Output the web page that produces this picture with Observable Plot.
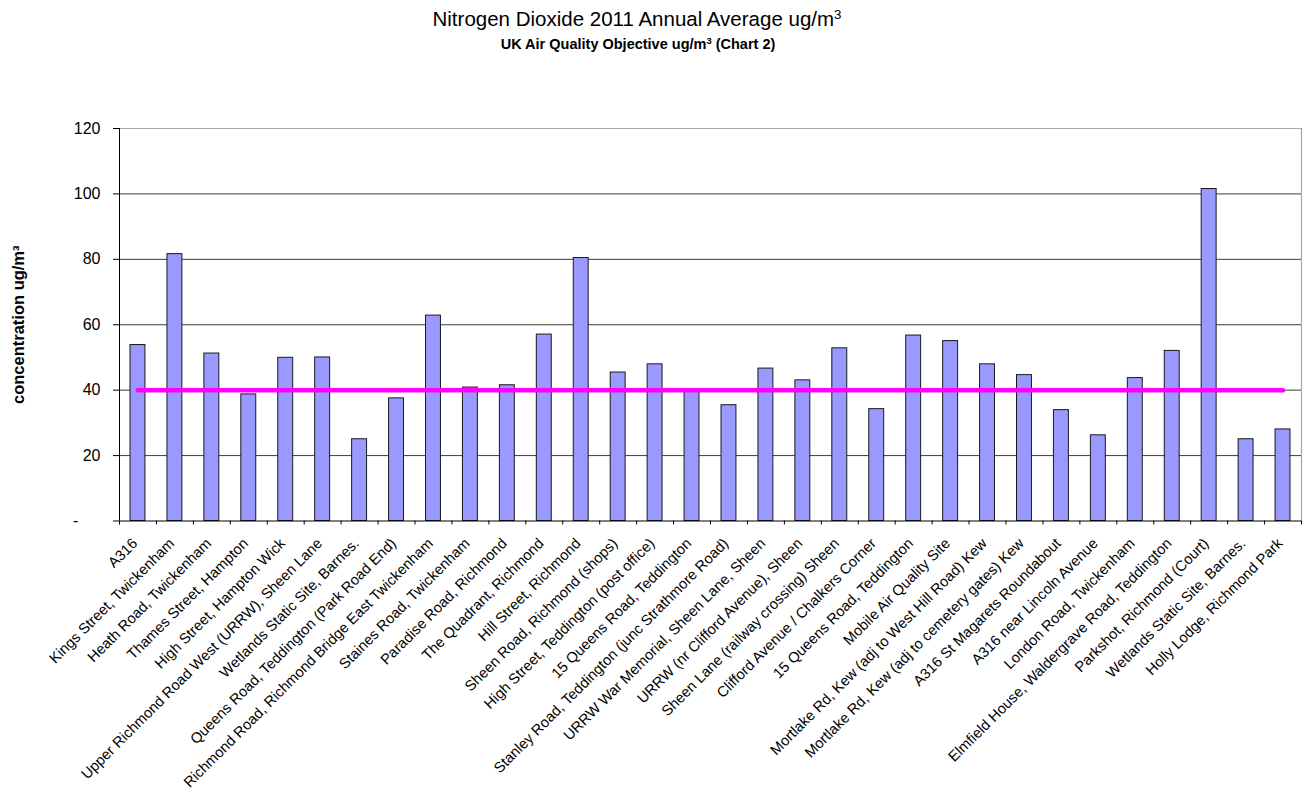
<!DOCTYPE html>
<html>
<head>
<meta charset="utf-8">
<script src="https://cdn.jsdelivr.net/npm/d3@7"></script>
<script src="https://cdn.jsdelivr.net/npm/@observablehq/plot@0.6"></script>
<style>
  html, body { margin: 0; padding: 0; background: #fff; }
  #wrap { position: relative; width: 1310px; height: 793px; font-family: "Liberation Sans", Arial, sans-serif; }
  #title { position: absolute; left: 0; top: 7px; width: 1274px; text-align: center; font-size: 20.5px; color: #000; line-height: 24px; }
  #subtitle { position: absolute; left: 0; top: 36px; width: 1276px; text-align: center; font-size: 14.5px; font-weight: bold; color: #000; line-height: 17px; }
  sup { font-size: 0.65em; vertical-align: 0.55em; line-height: 0; }
  #chart { position: absolute; left: 0; top: 60px; }
</style>
</head>
<body>
<div id="wrap">
  <div id="title">Nitrogen Dioxide 2011 Annual Average ug/m<sup>3</sup></div>
  <div id="subtitle">UK Air Quality Objective ug/m<sup>3</sup> (Chart 2)</div>
  <div id="chart"></div>
</div>
<script>
const sites = [
  "A316",
  "Kings Street, Twickenham",
  "Heath Road, Twickenham",
  "Thames Street, Hampton",
  "High Street, Hampton Wick",
  "Upper Richmond Road West (URRW), Sheen Lane",
  "Wetlands Static Site, Barnes.",
  "Queens Road, Teddington (Park Road End)",
  "Richmond Road, Richmond Bridge East Twickenham",
  "Staines Road, Twickenham",
  "Paradise Road, Richmond",
  "The Quadrant, Richmond",
  "Hill Street, Richmond",
  "Sheen Road, Richmond (shops)",
  "High Street, Teddington (post office)",
  "15 Queens Road, Teddington",
  "Stanley Road, Teddington (junc Strathmore Road)",
  "URRW War Memorial, Sheen Lane, Sheen",
  "URRW (nr Clifford Avenue), Sheen",
  "Sheen Lane (railway crossing) Sheen",
  "Clifford Avenue / Chalkers Corner",
  "15 Queens Road, Teddington",
  "Mobile Air Quality Site",
  "Mortlake Rd, Kew (adj to West Hill Road) Kew",
  "Mortlake Rd, Kew (adj to cemetery gates) Kew",
  "A316 St Magarets Roundabout",
  "A316 near Lincoln Avenue",
  "London Road, Twickenham",
  "Elmfield House, Waldergrave Road, Teddington",
  "Parkshot, Richmond (Court)",
  "Wetlands Static Site, Barnes.",
  "Holly Lodge, Richmond Park"
];
const no2 = [53.8, 81.6, 51.2, 38.7, 49.9, 50.0, 25.0, 37.5, 62.8, 40.8, 41.5, 57.0, 80.4, 45.4, 47.9, 39.5,
             35.4, 46.6, 43.0, 52.8, 34.2, 56.7, 55.0, 47.9, 44.6, 33.9, 26.2, 43.7, 52.0, 101.5, 25.0, 28.0];
const objective = 40;
const yTicks = [0, 20, 40, 60, 80, 100, 120];
const yTitle = "concentration ug/m\u00b3";

const data = sites.map((name, i) => ({i, name, value: no2[i], objective}));
const n = sites.length;

const chart = Plot.plot({
  width: 1310,
  height: 733,
  marginTop: 68,
  marginBottom: 272.5,
  marginLeft: 119,
  marginRight: 9,
  x: {domain: [0, n], axis: null},
  y: {domain: [0, 120], axis: null},
  style: {fontFamily: "'Liberation Sans', Arial, sans-serif", background: "white", color: "#000"},
  marks: [
    Plot.ruleY(yTicks.filter(d => d > 0 && d < 120), {stroke: "#3c3c3c", strokeWidth: 1, strokeOpacity: 1}),
    Plot.ruleY([120], {stroke: "#a6a6a6", strokeWidth: 1.2}),
    Plot.ruleX([n], {stroke: "#a6a6a6", strokeWidth: 1.2}),
    Plot.rect(data, {x1: d => d.i, x2: d => d.i + 1, y1: 0, y2: "value", insetLeft: 11, insetRight: 11,
                     fill: "#9999ff", stroke: "#1a1a1a", strokeWidth: 1}),
    Plot.line(data, {x: d => d.i + 0.5, y: "objective", stroke: "#ff00ff", strokeWidth: 4.5}),
    Plot.ruleY([0], {stroke: "#000"}),
    Plot.ruleX([0], {stroke: "#000"}),
    Plot.axisY(yTicks, {tickSize: 6, tickPadding: 13, fontSize: 16, label: null,
                        tickFormat: d => d === 0 ? "-\u00a0\u00a0\u00a0\u00a0\u00a0" : String(d)}),
    Plot.axisX(d3.range(0, n + 1), {tickSize: 4, tickFormat: () => "", label: null}),
    Plot.text(data, {x: d => d.i + 0.5, text: "name", frameAnchor: "bottom", rotate: -45,
                     textAnchor: "end", lineAnchor: "middle", dx: -3, dy: 20, fontSize: 14.7, fill: "#000"}),
    Plot.text([yTitle], {text: d => d, frameAnchor: "left", textAnchor: "middle", rotate: -90, dx: -101,
                         fontSize: 16.5, fontWeight: "bold", fill: "#000"})
  ]
});
document.getElementById("chart").appendChild(chart);
</script>
</body>
</html>
